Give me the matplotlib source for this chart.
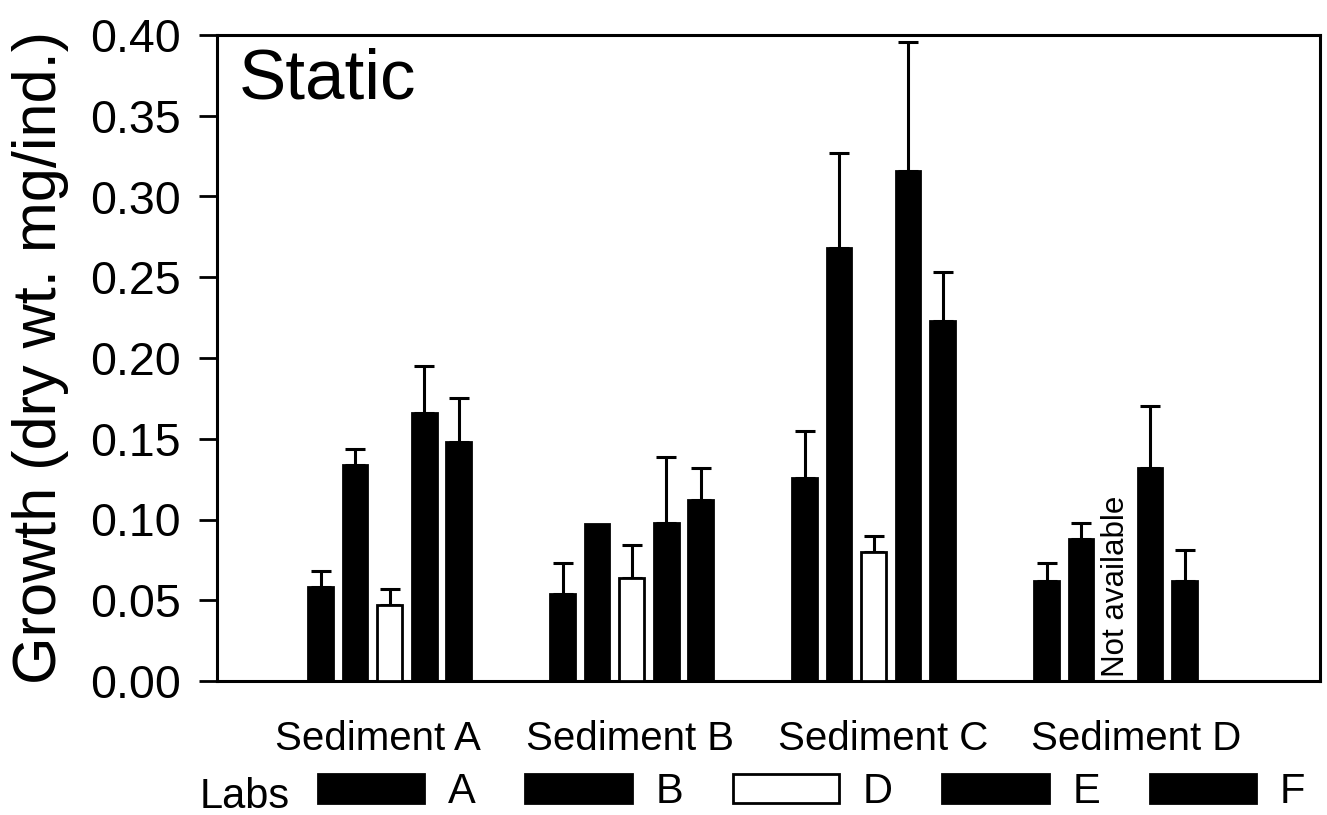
import numpy as np
import matplotlib
matplotlib.use("Agg")
import matplotlib.pyplot as plt
from matplotlib.patches import Patch

plt.rcParams['font.family'] = ['Liberation Sans', 'DejaVu Sans']

sediments = ['Sediment A', 'Sediment B', 'Sediment C', 'Sediment D']
labs = ['A', 'B', 'D', 'E', 'F']

# mean growth per lab, one value per sediment (nan = not available)
growth_A = [0.058, 0.054, 0.126, 0.062]
growth_B = [0.134, 0.097, 0.268, 0.088]
growth_D = [0.047, 0.064, 0.080, np.nan]
growth_E = [0.166, 0.098, 0.316, 0.132]
growth_F = [0.148, 0.112, 0.223, 0.062]

# upper standard deviation
sd_A = [0.010, 0.019, 0.029, 0.011]
sd_B = [0.0095, np.nan, 0.059, 0.010]
sd_D = [0.010, 0.020, 0.010, np.nan]
sd_E = [0.029, 0.041, 0.0795, 0.0385]
sd_F = [0.027, 0.020, 0.030, 0.019]

growth = [growth_A, growth_B, growth_D, growth_E, growth_F]
sds = [sd_A, sd_B, sd_D, sd_E, sd_F]
colors = ['black', 'black', 'white', 'black', 'black']

fig = plt.figure(figsize=(13.27, 8.15), dpi=100)
ax = fig.add_axes([217/1327, 134/815, 1103/1327, 646/815])

x = np.arange(len(sediments))
step = 0.1426
width = 0.103

for j, lab in enumerate(labs):
    vals = np.array(growth[j])
    err = np.array(sds[j])
    pos = x + (j - 2) * step
    ok = ~np.isnan(vals)
    ax.bar(pos[ok], vals[ok], width, color=colors[j], edgecolor='black',
           linewidth=2, zorder=3)
    eok = ok & ~np.isnan(err)
    ax.errorbar(pos[eok], vals[eok], yerr=[np.zeros(eok.sum()), err[eok]],
                fmt='none', ecolor='black', elinewidth=2.2, capsize=7,
                capthick=2.2, zorder=2)
    # missing result gets a vertical note instead of a bar
    for k in np.where(~ok)[0]:
        ax.text(pos[k], 0.0025, 'Not available', rotation=90, ha='center',
                va='bottom', fontsize=22.5)

ax.set_xlim(-0.713, 3.845)
ax.set_ylim(0, 0.40)
ax.set_yticks(np.arange(0, 0.401, 0.05))
ax.set_yticklabels(['%.2f' % v for v in np.arange(0, 0.401, 0.05)])
ax.set_xticks(x * 1.045 - 0.05)
ax.set_xticklabels(sediments)
ax.tick_params(axis='y', direction='out', length=13, width=2, pad=13,
               labelsize=33.5)
ax.tick_params(axis='x', length=0, pad=28, labelsize=29)
for s in ax.spines.values():
    s.set_linewidth(2.2)

ax.set_ylabel('Growth (dry wt. mg/ind.)', fontsize=44, va='center')
ax.yaxis.set_label_coords(-0.160, 0.5)

ax.text(0.02, 0.93, 'Static', transform=ax.transAxes, fontsize=51,
        ha='left', va='center')

fig.text(200/1327, 1 - 797/815, 'Labs', fontsize=30, ha='left', va='center')
handles = [Patch(facecolor=c, edgecolor='black', linewidth=2) for c in colors]
fig.legend(handles, labs, ncol=5, loc='center left',
           bbox_to_anchor=(318/1327, 1 - 792/815), frameon=False,
           fontsize=30, handlelength=2.55, handleheight=0.72,
           handletextpad=0.58, columnspacing=1.18, borderpad=0,
           borderaxespad=0)

fig.savefig('out.png', dpi=100)
